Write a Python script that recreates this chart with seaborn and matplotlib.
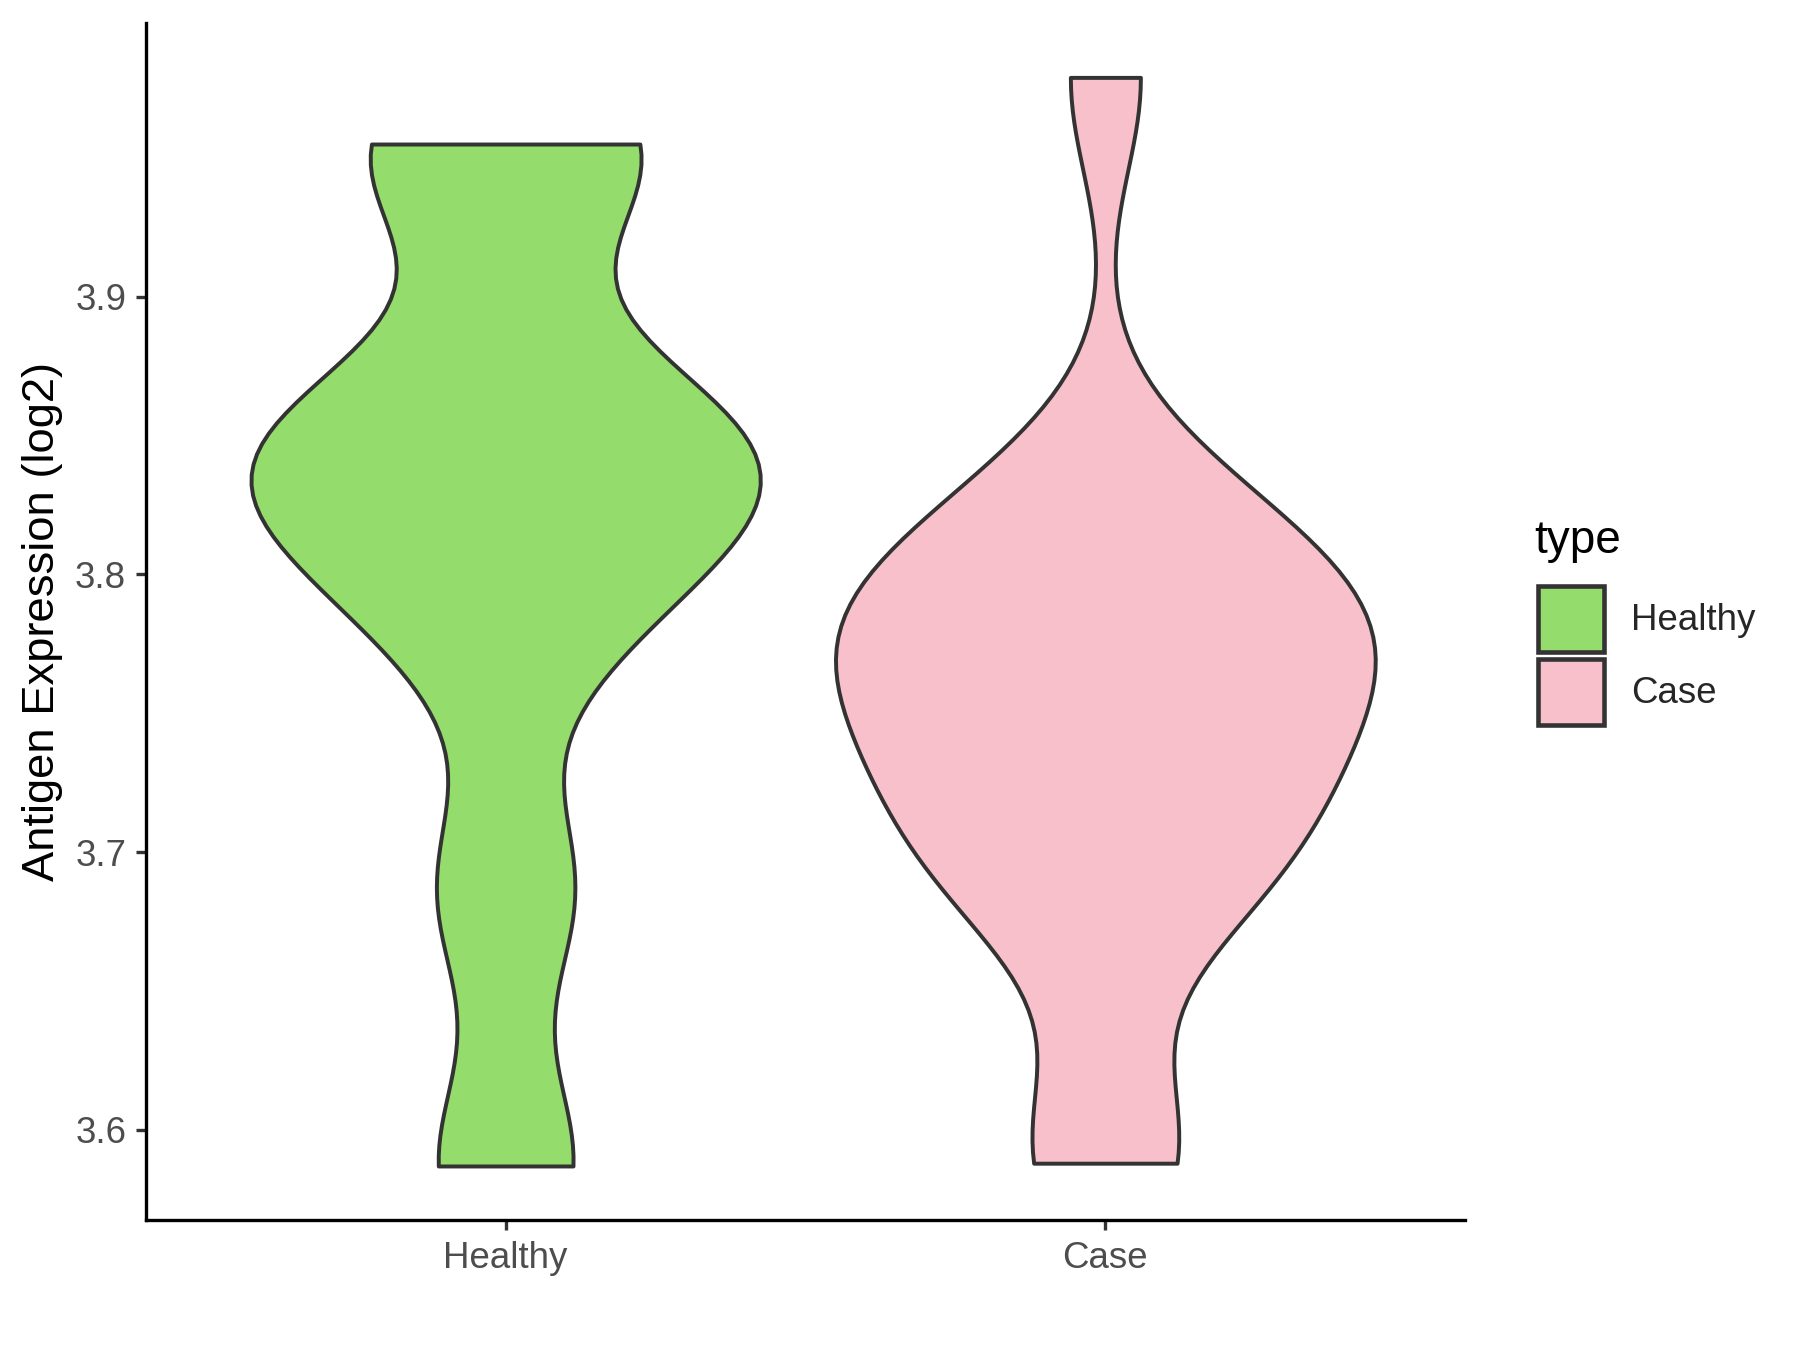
import numpy as np
import pandas as pd
import matplotlib
matplotlib.use("Agg")
import matplotlib.pyplot as plt
from matplotlib.patches import Patch
import seaborn as sns

# ---- data ----
categories = ["Healthy", "Case"]
healthy_values = [3.587, 3.686, 3.78, 3.815, 3.835, 3.845, 3.862, 3.950, 3.955]
case_values = [3.588, 3.595, 3.675, 3.69, 3.70, 3.715, 3.73, 3.745, 3.755,
               3.765, 3.775, 3.785, 3.795, 3.80, 3.815, 3.835, 3.979]
colors = {"Healthy": "#94DC6B", "Case": "#F8C0CB"}
y_ticks = [3.6, 3.7, 3.8, 3.9]
y_label = "Antigen Expression (log2)"
legend_title = "type"

df = pd.DataFrame({
    "type": ["Healthy"] * len(healthy_values) + ["Case"] * len(case_values),
    "value": healthy_values + case_values,
})

sns.set_theme(style="ticks")
plt.rcParams["font.family"] = ["Liberation Sans", "DejaVu Sans"]

BW = 0.035  # absolute kernel bandwidth


def bw_abs(kde):
    return BW / np.std(kde.dataset, ddof=1)


W, H = 1800, 1350
fig = plt.figure(figsize=(12, 9), dpi=150)
ax = fig.add_axes([0.081, 0.096, 0.733, 0.887])

sns.violinplot(data=df, x="type", y="value", hue="type", order=categories,
               hue_order=categories, palette=colors, cut=0, inner=None,
               density_norm="area", common_norm=True, width=0.9,
               linewidth=1.9, linecolor="#333333", saturation=1,
               bw_method=bw_abs, legend=False, ax=ax)

ax.set_xlim(-0.6, 1.6)
lo = min(df["value"]); hi = max(df["value"])
pad = (hi - lo) * 0.05
ax.set_ylim(lo - pad, hi + pad)
ax.set_yticks(y_ticks)
ax.set_yticklabels([f"{t:.1f}" for t in y_ticks])
ax.set_xlabel("")
ax.set_ylabel(y_label, fontsize=21.8, color="black", labelpad=6)

for side in ["top", "right"]:
    ax.spines[side].set_visible(False)
for side in ["left", "bottom"]:
    ax.spines[side].set_linewidth(1.6)
    ax.spines[side].set_color("black")
ax.tick_params(axis="both", length=5, width=1.6, color="#333333",
               labelcolor="#4D4D4D", labelsize=17.6)
ax.tick_params(axis="y", pad=4.4)
ax.tick_params(axis="x", pad=5)

# legend: title as text, keys as patches
fig.text(1534 / W, 1 - 553 / H, legend_title, fontsize=22, color="black",
         ha="left", va="baseline")
handles = [Patch(facecolor=colors[c], edgecolor="#333333", linewidth=2.2)
           for c in categories]
fig.legend(handles, categories, loc="upper left",
           bbox_to_anchor=(1538.3 / W, 1 - 585.6 / H), frameon=False,
           fontsize=17.6, handlelength=1.78, handleheight=2.41,
           handletextpad=0.75, labelspacing=0.18, borderpad=0,
           borderaxespad=0)

fig.savefig("out.png", dpi=150)
